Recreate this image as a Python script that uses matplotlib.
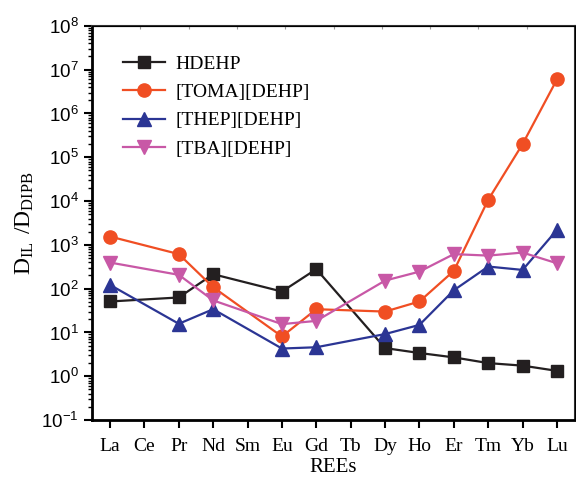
import numpy as np
import matplotlib
matplotlib.use('Agg')
import matplotlib.pyplot as plt

elements = ['La', 'Ce', 'Pr', 'Nd', 'Sm', 'Eu', 'Gd', 'Tb', 'Dy', 'Ho', 'Er', 'Tm', 'Yb', 'Lu']
# elements actually measured (Ce, Sm, Tb have no points)
measured = ['La', 'Pr', 'Nd', 'Eu', 'Gd', 'Dy', 'Ho', 'Er', 'Tm', 'Yb', 'Lu']

hdehp = [51, 63, 214, 86, 279, 4.4, 3.4, 2.7, 2.0, 1.75, 1.33]
toma = [1550, 616, 108, 8.1, 34, 30, 51, 255, 10700, 2.0e5, 6.0e6]
thep = [122, 15.8, 34, 4.3, 4.6, 9.2, 14.9, 92, 320, 268, 2200]
tba = [395, 207, 54, 15.5, 18.4, 153, 245, 615, 569, 668, 380]

plt.rcParams['mathtext.default'] = 'regular'

fig = plt.figure(figsize=(5.76, 4.79), dpi=100)
ax = fig.add_axes([0.16, 0.123, 0.838, 0.823])

xpos = [elements.index(e) for e in measured]

ax.plot(xpos, hdehp, color='#231f20', marker='s', markersize=8.5, lw=1.6, label='HDEHP')
ax.plot(xpos, toma, color='#f04e23', marker='o', markersize=9.5, lw=1.6, label='[TOMA][DEHP]')
ax.plot(xpos, thep, color='#2b3594', marker='^', markersize=9.5, lw=1.6, label='[THEP][DEHP]')
ax.plot(xpos, tba, color='#c858a6', marker='v', markersize=9.5, lw=1.6, label='[TBA][DEHP]')

ax.set_yscale('log')
ax.set_ylim(0.1, 1e8)
ax.set_xlim(-0.52, 13.52)
ax.set_yticks([10.0 ** k for k in range(-1, 9)])

ax.set_xticks(range(len(elements)))
ax.set_xticklabels(elements, family='Liberation Serif', fontsize=14)
for t in ax.get_yticklabels():
    t.set_family('Liberation Sans')
    t.set_fontsize(13.5)

ax.tick_params(axis='x', direction='out', length=6, width=1.5, pad=7)
ax.tick_params(axis='y', which='major', direction='out', length=6, width=1.5)
ax.tick_params(axis='y', which='minor', direction='out', length=3, width=1)

for s in ['left', 'bottom']:
    ax.spines[s].set_linewidth(2)
for s in ['top', 'right']:
    ax.spines[s].set_linewidth(1.5)
    ax.spines[s].set_color('#333333')

# faint ticks along the top
top = ax.twiny()
top.set_xlim(0, 10)
top.set_xticks(range(1, 10))
top.set_xticklabels([])
top.tick_params(axis='x', direction='in', length=2, width=0.8, color='#999999')

ax.set_xlabel('REEs', family='Liberation Serif', fontsize=15, labelpad=2)
ax.set_ylabel(r'$D_{IL}\ /D_{DIPB}$', family='Liberation Serif', fontsize=17, labelpad=4)

ax.legend(loc='upper left', bbox_to_anchor=(0.027, 0.97), frameon=False,
          prop={'family': 'Liberation Serif', 'size': 14},
          handlelength=2.2, labelspacing=0.55, handletextpad=0.5)

plt.savefig('out.png', dpi=100)
